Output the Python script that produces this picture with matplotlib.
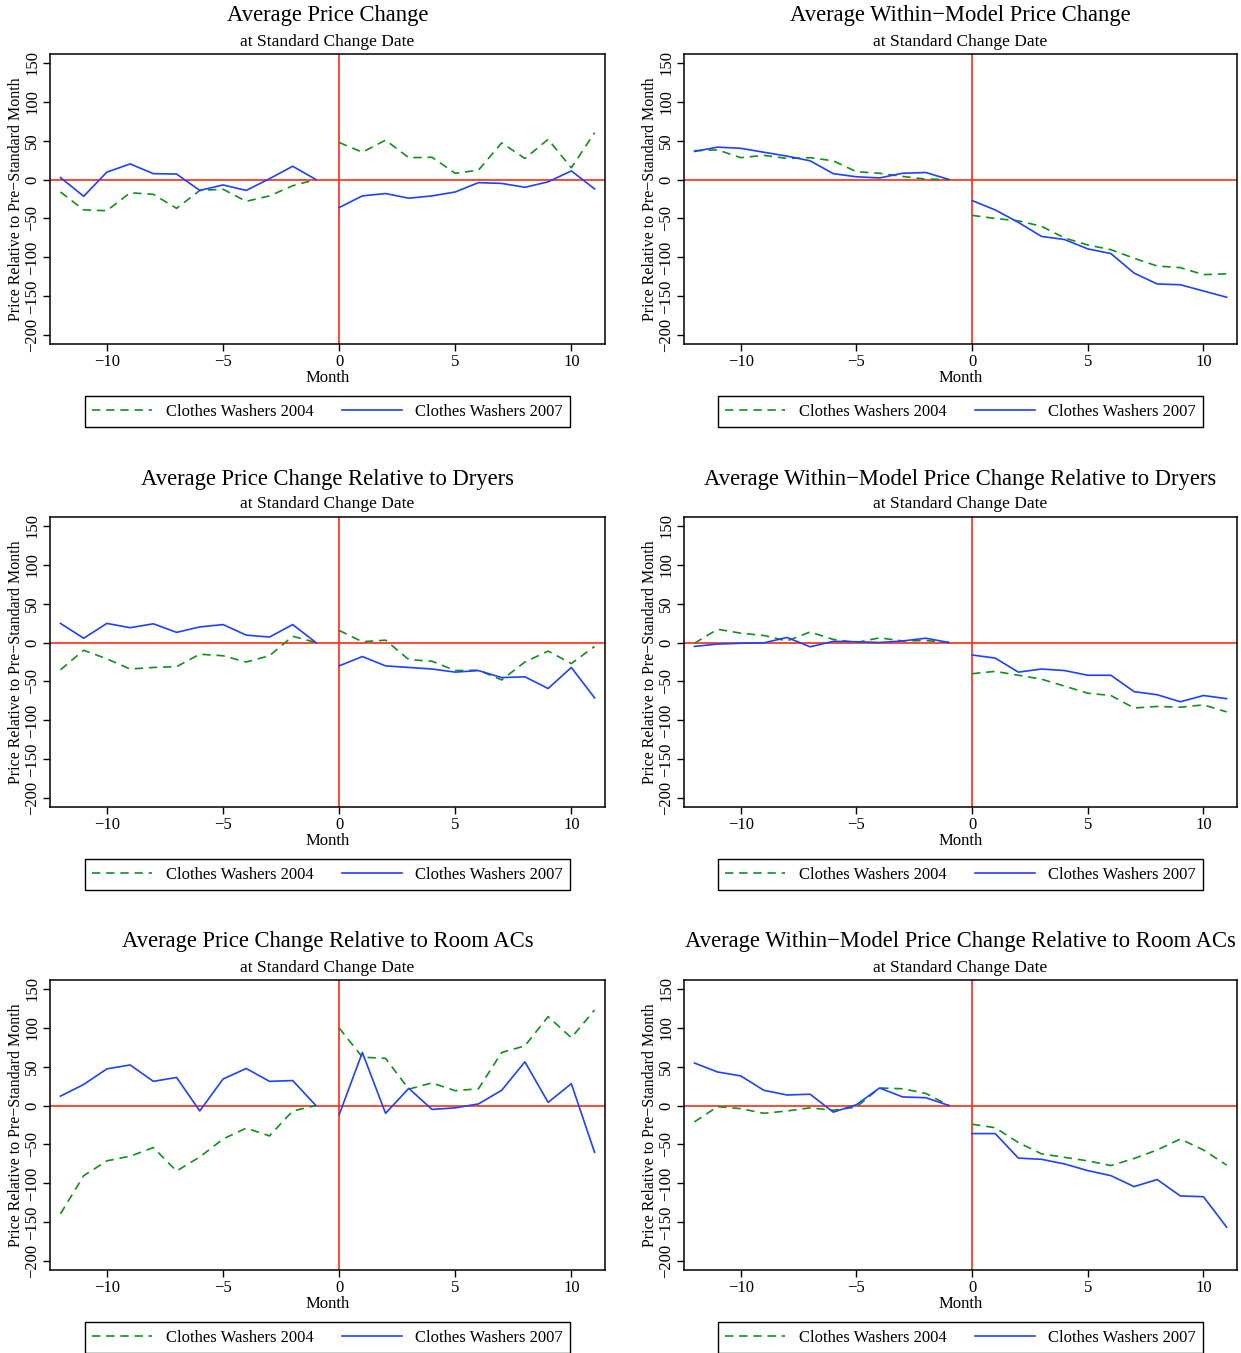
import matplotlib
matplotlib.use("Agg")
import matplotlib.pyplot as plt

plt.rcParams["font.family"] = ["Liberation Serif", "DejaVu Serif"]

# ---------- Data ----------

months_pre = list(range(-12, 0))
months_post = list(range(0, 12))

# Average Price Change
price_04 = [-16, -39, -40, -17, -19, -37, -14, -12.5, -28, -21, -8, 0,
            47.5, 35, 50.5, 28, 28.5, 8, 12, 47, 27, 51.5, 15, 60]
price_07 = [2.5, -21.5, 9.5, 20, 7.5, 7, -14, -7, -14, 1, 17, 0,
            -36, -21, -18, -24, -21, -16, -4, -5, -10, -3, 11, -12]

# Average Within-Model Price Change
model_04 = [37, 38, 28, 31, 27, 28, 24, 10, 8, 4, 0.5, 0,
            -46, -50, -53, -60, -75, -84, -90, -101, -111, -113, -122, -121]
model_07 = [36, 41.5, 40, 35, 30, 24, 7.5, 3.5, 2, 8, 9, 0,
            -27, -39, -55, -73, -77, -89, -95, -120, -134, -135, -143, -151]

# Relative to Dryers
dryer_04 = [-35, -10, -21, -34, -32, -31, -15, -17, -25, -17, 8, 0,
            15.5, 1, 3, -22, -24, -36, -35.5, -48, -25, -11, -27, -5]
dryer_07 = [24.5, 5.5, 24.5, 19, 24, 13, 20, 23, 9.5, 7, 23, 0,
            -30, -18, -30, -32, -34, -38, -36, -45, -44, -59, -32, -71]

model_dryer_04 = [-1, 17, 12, 9, 2, 13.5, 4, 0, 6, 2, 2.5, 0,
                  -40, -37, -42, -47, -56, -65, -68, -84, -82, -83, -80, -89]
model_dryer_07 = [-5, -2, -1, -0.5, 6.5, -5.5, 1.5, 1, 0, 2, 5.5, 0,
                  -16, -20, -38, -34, -36, -42, -42, -63, -67, -76, -68, -72]

# Relative to Room ACs
ac_04 = [-139, -90, -71, -65, -54, -84, -66, -43, -29, -39, -7, 0,
         99.5, 62, 60.5, 21, 29, 19, 21.5, 68, 76.5, 114, 87, 122.5]
ac_07 = [12, 27, 47, 52, 31, 36, -7, 34, 47.5, 31, 32, 0,
         -12, 68, -10, 22, -5, -3, 2, 19.5, 56, 4, 28, -60]

model_ac_04 = [-21, -1.5, -4, -10, -7, -3, -6, -2, 22.5, 21.5, 15.5, 0,
               -24, -28.5, -47.5, -62, -66.5, -71, -77, -68, -57, -43, -57, -76.5]
model_ac_07 = [54.5, 43, 38, 19.5, 13.5, 14.5, -8.5, 1, 22.5, 11, 10, 0,
               -36, -36, -67.5, -69, -75, -83.5, -90, -104, -95, -116, -117, -156]

titles = [
    "Average Price Change",
    "Average Within\u2212Model Price Change",
    "Average Price Change Relative to Dryers",
    "Average Within\u2212Model Price Change Relative to Dryers",
    "Average Price Change Relative to Room ACs",
    "Average Within\u2212Model Price Change Relative to Room ACs",
]
series = [
    (price_04, price_07),
    (model_04, model_07),
    (dryer_04, dryer_07),
    (model_dryer_04, model_dryer_07),
    (ac_04, ac_07),
    (model_ac_04, model_ac_07),
]

GREEN = "#10901a"
BLUE = "#2040ff"
RED = "#ff2a10"

# ---------- Layout (pixels) ----------

W, H = 1241, 1353
fig = plt.figure(figsize=(W / 100, H / 100), dpi=100)

col_left = [50, 684]
col_width = [555, 553]
row_top = [54, 517, 980]
ax_h = 290

for i, (title, (s04, s07)) in enumerate(zip(titles, series)):
    r, c = divmod(i, 2)
    left = col_left[c] / W
    bottom = 1 - (row_top[r] + ax_h) / H
    ax = fig.add_axes([left, bottom, col_width[c] / W, ax_h / H])

    ax.axhline(0, color=RED, lw=1.2, zorder=1)
    ax.axvline(0, color=RED, lw=1.2, zorder=1)

    ax.plot(months_pre, s04[:12], color=GREEN, lw=1.2, dashes=(5, 3.5), label="Clothes Washers 2004", zorder=2)
    ax.plot(months_post, s04[12:], color=GREEN, lw=1.2, dashes=(5, 3.5), zorder=2)
    ax.plot(months_pre, s07[:12], color=BLUE, lw=1.2, label="Clothes Washers 2007", zorder=3)
    ax.plot(months_post, s07[12:], color=BLUE, lw=1.2, zorder=3)

    ax.set_xlim(-12.45, 11.45)
    ax.set_ylim(-211, 161)
    ax.set_xticks([-10, -5, 0, 5, 10])
    ax.set_yticks(range(-200, 151, 50))
    ax.tick_params(direction="out", length=5, width=1, labelsize=12, pad=2.5)
    ax.tick_params(axis="y", labelrotation=90, pad=2)
    for lab in ax.get_yticklabels():
        lab.set_va("center")
    for sp in ax.spines.values():
        sp.set_linewidth(1.1)

    ax.set_xlabel("Month", fontsize=12, labelpad=0)
    ax.set_ylabel("Price Relative to Pre\u2212Standard Month", fontsize=11.5, labelpad=0.5)

    # title + subtitle above the plot area
    cx = (col_left[c] + col_width[c] / 2) / W
    fig.text(cx, 1 - (row_top[r] - 38) / H, title, ha="center", va="center", fontsize=16.3)
    fig.text(cx, 1 - (row_top[r] - 12.5) / H, "at Standard Change Date", ha="center", va="center", fontsize=12.5)

    leg = ax.legend(loc="center", bbox_to_anchor=(0.5, -0.234), ncol=2, fontsize=12,
                    handlelength=3.6, handletextpad=0.8, columnspacing=1.7,
                    borderpad=0.45, fancybox=False, framealpha=1, edgecolor="black")
    leg.get_frame().set_linewidth(1.0)

fig.savefig("out.png", dpi=100)
